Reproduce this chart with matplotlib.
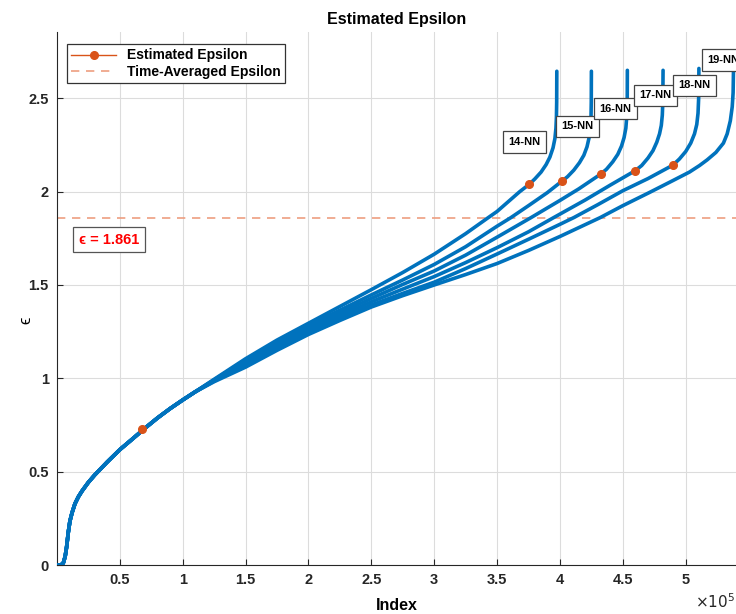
import numpy as np
import matplotlib
matplotlib.use("Agg")
import matplotlib.pyplot as plt

plt.rcParams['font.family'] = ['Liberation Sans', 'DejaVu Sans']

# shared start of all curves (index in units of 1e5)
idx_common = [0.0, 0.03, 0.05, 0.065, 0.077, 0.09, 0.103, 0.12, 0.143, 0.17, 0.2, 0.25, 0.3, 0.4, 0.5,
              0.6, 0.7, 0.8, 0.9, 1.0, 1.1]
eps_common = [0.0, 0.0, 0.01, 0.045, 0.098, 0.175, 0.235, 0.28, 0.328, 0.365, 0.397, 0.443, 0.482, 0.552, 0.618,
              0.675, 0.733, 0.788, 0.838, 0.884, 0.928]

# separate part of each k-NN curve
nn_names = ['14-NN', '15-NN', '16-NN', '17-NN', '18-NN', '19-NN']
idx_tail = [
    [1.25, 1.5, 1.75, 2.0, 2.25, 2.5, 2.75, 3.0, 3.25, 3.43, 3.5, 3.68, 3.755,
     3.8, 3.85, 3.89, 3.92, 3.945, 3.96, 3.968, 3.972, 3.974, 3.975],
    [1.25, 1.5, 1.75, 2.0, 2.25, 2.5, 2.75, 3.0, 3.25, 3.5, 3.61, 3.75, 3.9, 4.017,
     4.06, 4.11, 4.155, 4.19, 4.215, 4.232, 4.242, 4.247, 4.249, 4.25],
    [1.25, 1.5, 1.75, 2.0, 2.25, 2.5, 2.75, 3.0, 3.25, 3.5, 3.77, 4.0, 4.15, 4.324,
     4.37, 4.42, 4.46, 4.49, 4.51, 4.524, 4.531, 4.535, 4.536],
    [1.25, 1.5, 1.75, 2.0, 2.25, 2.5, 2.75, 3.0, 3.25, 3.5, 3.75, 3.95, 4.2, 4.4, 4.6,
     4.65, 4.70, 4.74, 4.77, 4.792, 4.806, 4.814, 4.818, 4.82],
    [1.25, 1.5, 1.75, 2.0, 2.25, 2.5, 2.75, 3.0, 3.25, 3.5, 3.75, 4.0, 4.11, 4.3, 4.5,
     4.7, 4.898, 4.95, 5.0, 5.04, 5.07, 5.088, 5.098, 5.103, 5.105],
    [1.25, 1.5, 1.75, 2.0, 2.25, 2.5, 2.75, 3.0, 3.25, 3.5, 3.75, 4.0, 4.32, 4.5,
     4.71, 4.9, 5.03, 5.11, 5.17, 5.24, 5.3, 5.33, 5.355, 5.37, 5.377, 5.38],
]
eps_tail = [
    [0.995, 1.105, 1.205, 1.295, 1.385, 1.475, 1.567, 1.665, 1.775, 1.861, 1.894, 2.0, 2.039,
     2.068, 2.105, 2.145, 2.185, 2.235, 2.285, 2.34, 2.40, 2.48, 2.645],
    [0.992, 1.098, 1.193, 1.282, 1.365, 1.447, 1.527, 1.61, 1.705, 1.815, 1.861, 1.925, 1.995, 2.057,
     2.08, 2.115, 2.155, 2.195, 2.24, 2.29, 2.34, 2.40, 2.48, 2.645],
    [0.99, 1.09, 1.183, 1.27, 1.35, 1.428, 1.503, 1.575, 1.66, 1.756, 1.861, 1.953, 2.015, 2.094,
     2.12, 2.16, 2.20, 2.245, 2.29, 2.34, 2.40, 2.48, 2.65],
    [0.987, 1.082, 1.172, 1.258, 1.335, 1.41, 1.478, 1.545, 1.62, 1.70, 1.785, 1.861, 1.955, 2.035, 2.113,
     2.14, 2.18, 2.22, 2.265, 2.31, 2.355, 2.41, 2.48, 2.65],
    [0.985, 1.072, 1.16, 1.245, 1.32, 1.393, 1.455, 1.515, 1.588, 1.666, 1.745, 1.825, 1.861, 1.93, 2.005,
     2.07, 2.142, 2.175, 2.215, 2.26, 2.31, 2.36, 2.42, 2.50, 2.66],
    [0.982, 1.06, 1.15, 1.235, 1.31, 1.382, 1.443, 1.50, 1.556, 1.615, 1.685, 1.76, 1.861, 1.925,
     1.995, 2.06, 2.105, 2.14, 2.17, 2.21, 2.26, 2.31, 2.38, 2.455, 2.53, 2.65],
]

# estimated epsilon points
dot_idx = [0.68, 3.755, 4.017, 4.324, 4.60, 4.898]
dot_eps = [0.727, 2.039, 2.057, 2.094, 2.113, 2.142]

eps_avg = 1.861

# label boxes
lab_idx = [3.72, 4.14, 4.44, 4.76, 5.07, 5.30]
lab_eps = [2.266, 2.35, 2.445, 2.517, 2.571, 2.705]

blue = '#0072BD'
orange = '#D95319'

fig = plt.figure(figsize=(7.36, 6.14), dpi=100)
ax = fig.add_axes([0.0774, 0.0798, 0.9226, 0.868])

for i in range(len(nn_names)):
    x = np.array(idx_common + idx_tail[i]) * 1e5
    y = np.array(eps_common + eps_tail[i])
    ax.plot(x, y, color=blue, lw=2.6, solid_capstyle='round', solid_joinstyle='round', zorder=3)

for i in range(len(dot_idx)):
    lbl = 'Estimated Epsilon' if i == 0 else None
    ax.plot([dot_idx[i] * 1e5], [dot_eps[i]], '-o', color=orange, ms=5.5, lw=1,
            label=lbl, zorder=4)

ax.axhline(eps_avg, color='#EE9E80', ls=(0, (5, 4)), lw=1.2, label='Time-Averaged Epsilon', zorder=2)

for i in range(len(nn_names)):
    ax.text(lab_idx[i] * 1e5, lab_eps[i], nn_names[i], fontsize=8, fontweight='bold',
            ha='center', va='center', zorder=6, clip_on=False,
            bbox=dict(boxstyle='square,pad=0.5', fc='white', ec='#444444', lw=0.9))

ax.text(0.417e5, 1.743, '\u03f5 = 1.861', color='red', fontsize=10.5, fontweight='bold',
        ha='center', va='center', zorder=6,
        bbox=dict(boxstyle='square,pad=0.4', fc='white', ec='#555555', lw=0.9))

ax.set_xlim(0, 5.40e5)
ax.set_ylim(0, 2.855)
xt = [0.5, 1, 1.5, 2, 2.5, 3, 3.5, 4, 4.5, 5]
ax.set_xticks([v * 1e5 for v in xt])
ax.set_xticklabels(['0.5', '1', '1.5', '2', '2.5', '3', '3.5', '4', '4.5', '5'])
ax.set_yticks([0, 0.5, 1, 1.5, 2, 2.5])
ax.set_yticklabels(['0', '0.5', '1', '1.5', '2', '2.5'])
ax.tick_params(direction='in', length=4, width=0.8, labelsize=10.5, colors='#262626', pad=6)
for t in ax.get_xticklabels() + ax.get_yticklabels():
    t.set_fontweight('bold')

ax.spines['top'].set_visible(False)
ax.spines['right'].set_visible(False)
ax.spines['left'].set_color('#262626')
ax.spines['bottom'].set_color('#262626')
ax.grid(True, color='#dcdcdc', lw=0.8)
ax.set_axisbelow(True)

ax.set_title('Estimated Epsilon', fontsize=11.5, fontweight='bold', pad=6)
ax.set_xlabel('Index', fontsize=11.5, fontweight='bold', labelpad=8)
ax.set_ylabel('\u03f5', fontsize=12, rotation=90)
ax.yaxis.set_label_coords(-0.035, 0.46)
fig.text(0.999, 0.005, r'$\times10^5$', fontsize=11, ha='right', va='bottom', color='#262626')

leg = ax.legend(loc='upper left', prop={'weight': 'bold', 'size': 10},
                fancybox=False, edgecolor='#333333', framealpha=1,
                borderpad=0.3, labelspacing=0.2, handlelength=3.2,
                bbox_to_anchor=(0.005, 0.99))
leg.get_frame().set_linewidth(0.9)

fig.savefig('out.png', dpi=100)
